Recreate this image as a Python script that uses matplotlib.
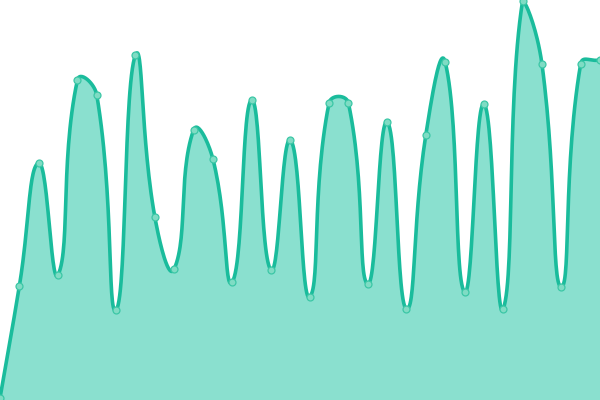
import numpy as np
import matplotlib
matplotlib.use("Agg")
import matplotlib.pyplot as plt

# data (index positions 0..31), values on a 0..100 scale
x_idx = list(range(32))
values = [0.5, 28.5, 59.25, 31.25, 80, 76.25, 22.5, 86.25, 45.75, 32.75,
          67.5, 60.25, 29.5, 75, 32.5, 65, 25.75, 74.25, 74.25, 29,
          69.5, 22.75, 66.25, 84.5, 27, 74, 22.75, 99.75, 84, 28.25,
          84, 85]

LINE = "#1abc9c"
FILL = "#8ae0cf"
MARK = "#7fdcc4"

W, H = 600, 400
XMAX, YMAX = 31, 100


def smooth_bezier(xs, ys, smooth=0.5, n=30):
    # control points computed in pixel space (zrender-style smoothBezier)
    sxp = np.asarray(xs, float) * W / XMAX
    syp = np.asarray(ys, float) * H / YMAX
    pts = np.stack([sxp, syp], axis=1)
    lo = pts.min(axis=0)
    hi = pts.max(axis=0)
    cps = []
    m = len(pts)
    for i in range(m):
        p = pts[i]
        prev = pts[i - 1] if i > 0 else p
        nxt = pts[i + 1] if i < m - 1 else p
        v = (nxt - prev) * smooth
        d0 = np.hypot(*(p - prev))
        d1 = np.hypot(*(p - nxt))
        s = d0 + d1
        if s != 0:
            d0 /= s
            d1 /= s
        c0 = np.clip(p - v * d0, lo, hi)
        c1 = np.clip(p + v * d1, lo, hi)
        cps.append((c0, c1))
    out = []
    t = np.linspace(0, 1, n, endpoint=False)[:, None]
    mt = 1 - t
    for i in range(m - 1):
        p1 = pts[i]
        p2 = pts[i + 1]
        a = cps[i][1]
        b = cps[i + 1][0]
        seg = mt**3 * p1 + 3 * mt**2 * t * a + 3 * mt * t**2 * b + t**3 * p2
        out.append(seg)
    out.append(pts[-1][None, :])
    out = np.concatenate(out)
    return out[:, 0] * XMAX / W, out[:, 1] * YMAX / H


sx, sy = smooth_bezier(x_idx, values)

fig = plt.figure(figsize=(6, 4), dpi=100)
ax = fig.add_axes([0, 0, 1, 1])
ax.fill_between(sx, sy, 0, color=FILL, linewidth=0)
ax.plot(sx, sy, color=LINE, linewidth=2.6, solid_capstyle="round")
ax.plot(x_idx, values, linestyle="none", marker="o", markersize=5,
        markerfacecolor=MARK, markeredgecolor="#3cc7a6", markeredgewidth=0.9)
ax.set_xlim(0, XMAX)
ax.set_ylim(0, YMAX)
ax.axis("off")
fig.savefig("out.png", dpi=100)
